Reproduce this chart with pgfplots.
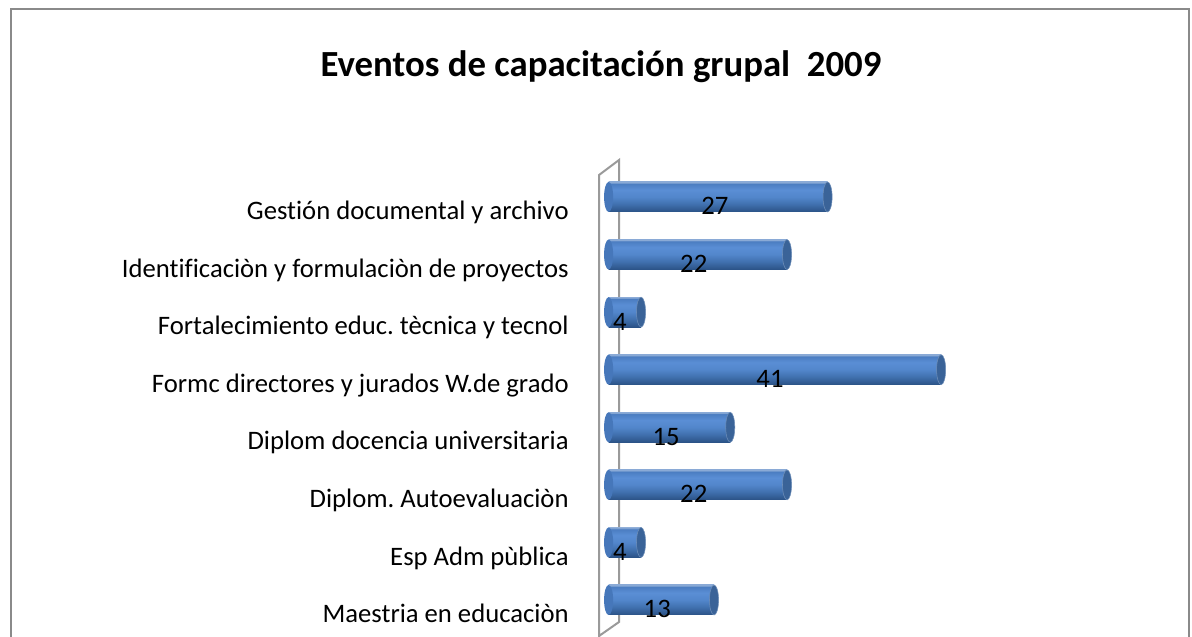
\documentclass[border=0pt]{standalone}
\usepackage{pgfplots}
\pgfplotsset{compat=1.18}
\usepackage{fontspec}
\setmainfont{Carlito}[Ligatures=NoCommon]
\frenchspacing
\definecolor{framegray}{HTML}{8A8A8A}
\definecolor{wallgray}{HTML}{9A9A9A}
\definecolor{c1}{HTML}{2A5286}
\definecolor{c2}{HTML}{30598F}
\definecolor{c3}{HTML}{4070AE}
\definecolor{c4}{HTML}{5286CB}
\definecolor{c5}{HTML}{5A8ED5}
\definecolor{c6}{HTML}{4B7DC1}
\definecolor{c7}{HTML}{8AAAD6}
\definecolor{capblue}{HTML}{3A6398}
\definecolor{capedge}{HTML}{6F8FB8}
\definecolor{leftblue}{HTML}{4677BA}
\pgfdeclareverticalshading{cyl}{100bp}{color(0bp)=(c1); color(25bp)=(c1); color(28bp)=(c2); color(38bp)=(c3); color(50bp)=(c4); color(62bp)=(c5); color(72bp)=(c6); color(74bp)=(c7); color(75bp)=(c7); color(100bp)=(c7)}
\pgfdeclareplotmark{capR}{\pgfpathellipse{\pgfpointorigin}{\pgfqpoint{3.4pt}{0pt}}{\pgfqpoint{0pt}{11.25pt}}\pgfusepath{fill,stroke}}
\pgfdeclareplotmark{capL}{\pgfpathellipse{\pgfpointorigin}{\pgfqpoint{3.4pt}{0pt}}{\pgfqpoint{0pt}{11.25pt}}\pgfusepath{fill}}
\begin{document}
\begin{tikzpicture}
\begin{scope}[x=0.75pt,y=0.75pt]
\useasboundingbox (0,0) rectangle (1192,636);
\draw[framegray, line width=1.5pt] (11,627) rectangle (1189,-20);
\node[font=\fontsize{27.6}{32}\selectfont\bfseries, anchor=center] at (601,569) {Eventos de capacitación grupal\ \ 2009};
\draw[wallgray, line width=1.5pt] (599,-10) -- (599,461) -- (619,476) -- (619,14) -- (599,0);
\end{scope}
\begin{axis}[
  scale only axis, width=425.8pt, height=354.1pt,
  at={(456.45pt,1.1pt)}, anchor=south west,
  xmin=0, xmax=70, ymin=-0.6, ymax=7.6,
  axis line style={draw=none}, tick style={draw=none},
  xtick=\empty, ytick={0,1,2,3,4,5,6,7},
  yticklabels={Maestria en educaciòn, Esp Adm pùblica, Diplom. Autoevaluaciòn, Diplom docencia universitaria, Formc directores y jurados W.de grado, Fortalecimiento educ. tècnica y tecnol\hspace{-4.5pt}, Identificaciòn y formulaciòn de proyectos, Gestión documental y archivo},
  yticklabel style={font=\fontsize{20}{24}\selectfont, anchor=base east, inner sep=0pt, xshift=-29.8pt, yshift=-17pt},
  clip=false,
  cylbar/.style={xbar, bar width=22.5pt, bar shift=0pt, draw=none, shade, shading=cyl},
]
\addplot[only marks, mark=capL, mark options={fill=leftblue, draw=none}] coordinates {(0,0) (0,1) (0,2) (0,3) (0,4) (0,5) (0,6) (0,7)};
\addplot[cylbar] coordinates {(13,0)};
\addplot[cylbar] coordinates {(4,1)};
\addplot[cylbar] coordinates {(22,2)};
\addplot[cylbar] coordinates {(15,3)};
\addplot[cylbar] coordinates {(41,4)};
\addplot[cylbar] coordinates {(4,5)};
\addplot[cylbar] coordinates {(22,6)};
\addplot[cylbar] coordinates {(27,7)};
\addplot[only marks, mark=capR, mark options={fill=capblue, draw=capedge, line width=0.4pt}] coordinates {(13,0) (4,1) (22,2) (15,3) (41,4) (4,5) (22,6) (27,7)};
\addplot[draw=none, mark=none, nodes near coords, point meta=explicit symbolic,
  nodes near coords style={font=\fontsize{20}{24}\selectfont, anchor=base, inner sep=0pt, yshift=-13.5pt, text=black}]
  table[meta=v] {
x y v
6.0 0 13
1.4 1 4
10.5 2 22
7.1 3 15
19.9 4 41
1.4 5 4
10.5 6 22
13.1 7 27
};
\end{axis}
\end{tikzpicture}
\end{document}
